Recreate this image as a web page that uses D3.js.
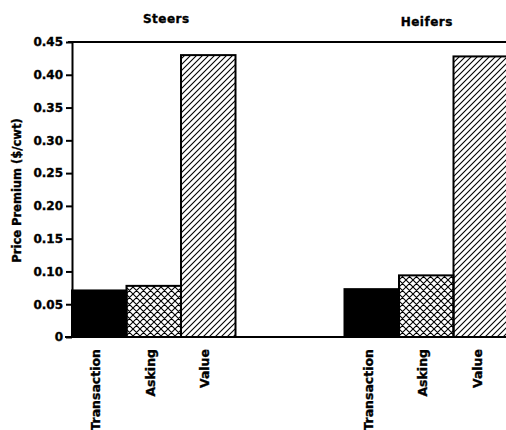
<!DOCTYPE html>
<html>
<head>
<meta charset="utf-8">
<script src="https://cdn.jsdelivr.net/npm/d3@7"></script>
<style>
  body { margin: 0; background: #fff; }
  text { font-family: "DejaVu Sans", sans-serif; font-weight: bold; fill: #000; stroke: #000; stroke-width: 0.35px; }
</style>
</head>
<body>
<div id="chart"></div>
<script>
// values
var groups   = ["Steers", "Heifers"];
var measures = ["Transaction", "Asking", "Value"];
var steers   = [0.071, 0.078, 0.430];
var heifers  = [0.073, 0.094, 0.428];
var yTicks   = [0, 0.05, 0.10, 0.15, 0.20, 0.25, 0.30, 0.35, 0.40, 0.45];

var width = 506, height = 430;
var plotLeft = 72, plotTop = 42, plotBottom = 337;

var svg = d3.select("#chart").append("svg")
	.attr("width", width)
	.attr("height", height);

// fill patterns
var defs = svg.append("defs");
defs.append("pattern")
	.attr("id", "hatch")
	.attr("patternUnits", "userSpaceOnUse")
	.attr("width", 6).attr("height", 6)
	.append("path")
	.attr("d", "M-1,1 l2,-2 M0,6 l6,-6 M5,7 l2,-2")
	.attr("stroke", "#000").attr("stroke-width", 1.1);

var cross = defs.append("pattern")
	.attr("id", "cross")
	.attr("patternUnits", "userSpaceOnUse")
	.attr("width", 7).attr("height", 7);
cross.append("path")
	.attr("d", "M-1,1 l2,-2 M0,7 l7,-7 M6,8 l2,-2 M-1,6 l2,2 M0,0 l7,7 M6,-1 l2,2")
	.attr("stroke", "#000").attr("stroke-width", 1.1);

var fills = ["#000", "url(#cross)", "url(#hatch)"];

// 8 slots: steers 0-2, gap, heifers 5-7
var x = d3.scaleBand()
	.domain(d3.range(8))
	.range([plotLeft, plotLeft + 8 * 54.5])
	.paddingInner(0).paddingOuter(0);

var y = d3.scaleLinear()
	.domain([0, 0.45])
	.range([plotBottom, plotTop]);

var rows = [];
groups.forEach(function(g, gi) {
	var vals = gi === 0 ? steers : heifers;
	measures.forEach(function(m, mi) {
		rows.push({group: g, measure: m, value: vals[mi], slot: gi * 5 + mi, mi: mi});
	});
});

// bars
svg.selectAll("rect.bar")
	.data(rows)
	.enter().append("rect")
	.attr("class", "bar")
	.attr("x", function(d) { return x(d.slot); })
	.attr("y", function(d) { return y(d.value); })
	.attr("width", x.bandwidth())
	.attr("height", function(d) { return y(0) - y(d.value); })
	.attr("fill", function(d) { return fills[d.mi]; })
	.attr("stroke", "#000")
	.attr("stroke-width", 2);

// frame lines top and bottom
svg.append("line")
	.attr("x1", plotLeft - 4).attr("x2", width)
	.attr("y1", y(0.45)).attr("y2", y(0.45))
	.attr("stroke", "#000").attr("stroke-width", 2);
svg.append("line")
	.attr("x1", plotLeft - 7).attr("x2", width)
	.attr("y1", y(0)).attr("y2", y(0))
	.attr("stroke", "#000").attr("stroke-width", 2);

// y axis
var yAxis = d3.axisLeft(y)
	.tickValues(yTicks)
	.tickSize(6)
	.tickSizeOuter(0)
	.tickPadding(3)
	.tickFormat(function(d) { return d === 0 ? "0" : d3.format(".2f")(d); });

var ga = svg.append("g")
	.attr("transform", "translate(" + plotLeft + ",0)")
	.call(yAxis);
ga.select(".domain").attr("stroke-width", 2);
ga.selectAll(".tick line").attr("stroke-width", 2);
ga.selectAll(".tick text")
	.style("font-size", "12px")
	.style("font-family", "DejaVu Sans")
	.style("font-weight", "bold");

// y label
svg.append("text")
	.attr("transform", "translate(21," + ((plotTop + plotBottom) / 2 + 1) + ") rotate(-90)")
	.attr("text-anchor", "middle")
	.style("font-size", "11.5px")
	.text("Price Premium ($/cwt)");

// group titles
var titleSlot = [1.73, 6.51];
svg.selectAll("text.title")
	.data(groups)
	.enter().append("text")
	.attr("class", "title")
	.attr("x", function(d, i) { return x(Math.floor(titleSlot[i])) + (titleSlot[i] % 1) * x.bandwidth(); })
	.attr("y", function(d, i) { return i === 0 ? 23 : 26; })
	.attr("text-anchor", "middle")
	.style("font-size", "12px")
	.style("letter-spacing", "0.5px")
	.text(function(d) { return d; });

// category labels
svg.selectAll("text.cat")
	.data(rows)
	.enter().append("text")
	.attr("class", "cat")
	.attr("transform", function(d) {
		return "translate(" + (x(d.slot) + x.bandwidth() / 2 + 1) + ",349) rotate(-90)";
	})
	.attr("text-anchor", "end")
	.style("font-size", "12.5px")
	.text(function(d) { return d.measure; });
</script>
</body>
</html>
